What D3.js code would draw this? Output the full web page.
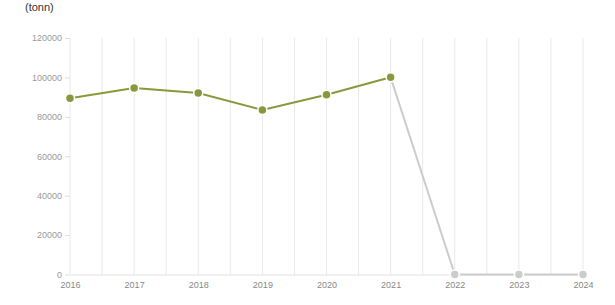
<!DOCTYPE html>
<html><head><meta charset="utf-8">
<script src="https://cdn.jsdelivr.net/npm/d3@7"></script>
<style>
body{margin:0;background:#fff;}
svg{display:block;font-family:"Liberation Sans",Arial,sans-serif;}
</style></head>
<body>
<svg id="c" width="615" height="305"></svg>
<script>
const years = [2016, 2017, 2018, 2019, 2020, 2021, 2022, 2023, 2024];
const values = [89400, 94600, 92100, 83500, 91200, 100050, 0, 0, 0];
const yTicks = [0, 20000, 40000, 60000, 80000, 100000, 120000];
const unitLabel = "(tonn)";
const actualCount = 6; // first six years are reported values

const svg = d3.select("#c");
const x = d3.scaleLinear().domain([2016, 2024]).range([70, 583]);
const y = d3.scaleLinear().domain([0, 120000]).range([274.5, 38]);

// vertical grid lines at each year and half-year
const gridVals = d3.range(2016, 2024.01, 0.5);
svg.append("g").selectAll("line").data(gridVals).join("line")
  .attr("x1", d => x(d)).attr("x2", d => x(d))
  .attr("y1", y(120000)).attr("y2", y(0))
  .attr("stroke", "#e8e8e8").attr("stroke-width", 1);

// y axis
const yAxis = d3.axisLeft(y).tickValues(yTicks).tickSize(5).tickPadding(3).tickFormat(d3.format("d"));
const gy = svg.append("g").attr("transform", "translate(70,0)").call(yAxis);
gy.select(".domain").remove();
gy.selectAll(".tick line").attr("stroke", "#ddd");
gy.selectAll(".tick text").attr("fill", "#999").attr("font-size", 9).attr("font-family", "Liberation Sans, Arial, sans-serif");

// x axis
const xAxis = d3.axisBottom(x).tickValues(years).tickSize(0).tickPadding(7).tickFormat(d3.format("d"));
const gx = svg.append("g").attr("transform", `translate(0,${y(0)})`).call(xAxis);
gx.select(".domain").attr("stroke", "#e0e0e0");
gx.selectAll(".tick text").attr("fill", "#888").attr("font-size", 9).attr("font-family", "Liberation Sans, Arial, sans-serif");

const pts = years.map((yr, i) => ({yr, v: values[i], i}));
const line = d3.line().x(d => x(d.yr)).y(d => y(d.v));

// gray projection segment
svg.append("path").datum(pts.slice(actualCount - 1))
  .attr("d", line).attr("fill", "none").attr("stroke", "#cccccc").attr("stroke-width", 2);
// green actual segment
svg.append("path").datum(pts.slice(0, actualCount))
  .attr("d", line).attr("fill", "none").attr("stroke", "#8a983c").attr("stroke-width", 2);

svg.append("g").selectAll("circle").data(pts).join("circle")
  .attr("cx", d => x(d.yr)).attr("cy", d => y(d.v)).attr("r", 4.5)
  .attr("fill", d => d.i < actualCount ? "#8a983c" : "#cccccc")
  .attr("stroke", "#fff").attr("stroke-width", 1.5);

svg.append("text").attr("x", 25).attr("y", 11).text(unitLabel)
  .attr("fill", "#333").attr("font-size", 11);
</script>
</body></html>
